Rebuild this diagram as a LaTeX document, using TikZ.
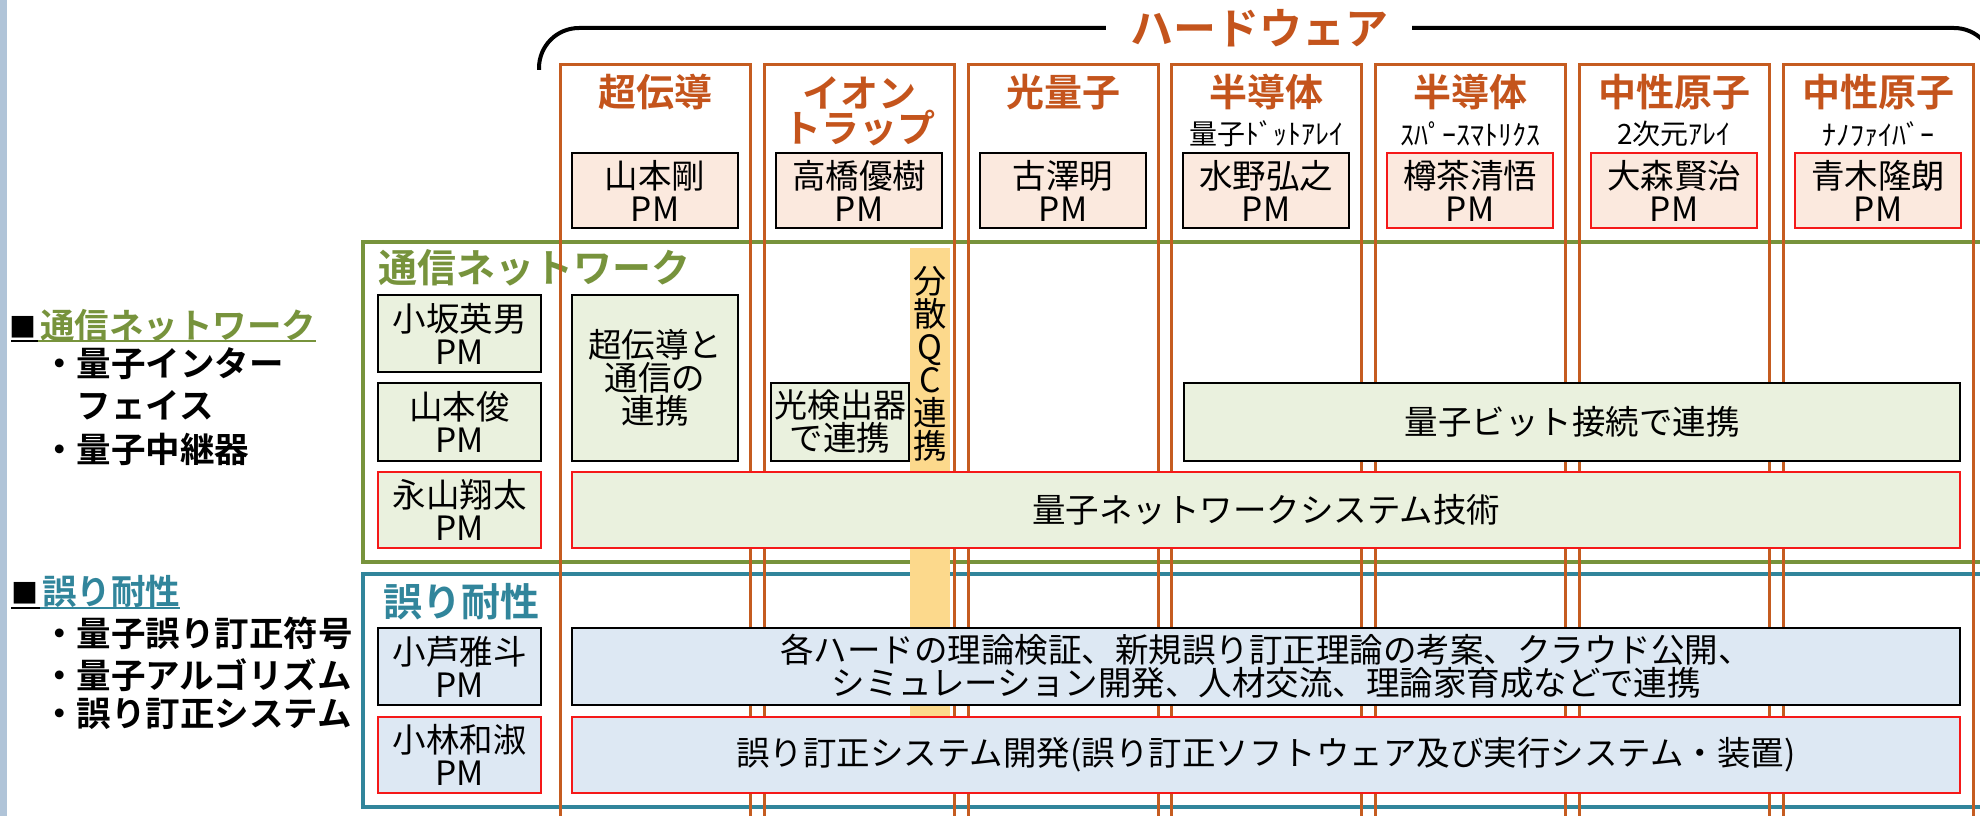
\documentclass[tikz,border=0pt]{standalone}
\usepackage{fontspec}
\setmainfont{Noto Sans CJK JP}[BoldFont={Noto Sans CJK JP Bold}]
\definecolor{colc}{RGB}{197,92,32}
\definecolor{hwtext}{RGB}{196,84,28}
\definecolor{greenc}{RGB}{119,147,60}
\definecolor{tealc}{RGB}{49,133,155}
\definecolor{redc}{RGB}{245,25,25}
\definecolor{peach}{RGB}{251,233,222}
\definecolor{lgreen}{RGB}{234,241,222}
\definecolor{lblue}{RGB}{221,232,243}
\definecolor{yellowc}{RGB}{252,217,140}
\definecolor{barc}{RGB}{176,196,216}
\newcommand\myhd{\fontsize{38}{34}\selectfont\bfseries}
\newcommand\mysub{\fontsize{28}{28}\selectfont}
\newcommand\mybox{\fontsize{33.5}{33}\selectfont}
\newcommand\myleft{\fontsize{34.5}{34}\selectfont\bfseries}
\newcommand\mysec{\fontsize{39}{39}\selectfont\bfseries}
\tikzset{
  colbox/.style={draw=colc, line width=3, minimum width=190, minimum height=770, inner sep=0},
  hd/.style={text=hwtext, font=\myhd, align=center, inner sep=0},
  subt/.style={text=black, font=\mysub, inner sep=0},
  pmb/.style={draw=black, line width=1.8, fill=peach, minimum width=166, minimum height=75, inner sep=0, align=center, font=\mybox},
  redb/.style={draw=redc},
  gbox/.style={draw=black, line width=1.8, fill=lgreen, inner sep=0, align=center, font=\mybox},
  bbox/.style={draw=black, line width=1.8, fill=lblue, inner sep=0, align=center, font=\mybox},
  secg/.style={draw=greenc, line width=4, inner sep=0},
  secb/.style={draw=tealc, line width=4, inner sep=0},
  lefttxt/.style={font=\myleft, anchor=west, inner sep=0},
  sqmark/.style={font=\fontsize{27}{27}\selectfont, inner sep=0},
  bracket/.style={draw=black, line width=4, rounded corners=40},
}
\begin{document}
\begin{tikzpicture}[x=1pt,y=-1pt]
\useasboundingbox (0,0) rectangle (1980,816);
\fill[white] (0,0) rectangle (1980,816);
% left edge bar
\fill[barc] (0,0) rectangle (7,816);

% bracket with title
\node[text=hwtext, font=\fontsize{43}{43}\selectfont\bfseries, inner sep=0] (hw) at (1259,28) {ハードウェア};
\coordinate (bl) at (539,70);
\coordinate (br) at (1994,95);
\draw[bracket] (bl) |- ([xshift=-24]hw.west);
\draw[bracket] ([xshift=24]hw.east) -| (br);

% sections
\node[secg, minimum width=1632, minimum height=320] (net) at (1179,402) {};
\node[secb, minimum width=1632, minimum height=233] (ft) at (1179,690.5) {};
\node[text=greenc, font=\mysec, anchor=west, inner sep=0] (nett) at (378,268) {通信ネットワーク};
\node[text=tealc, font=\mysec, anchor=west, inner sep=0] (ftt) at (383,602) {誤り耐性};

% hardware columns
\node[colbox] (c1) at (655,450) {};
\node[colbox] (c2) at (859,450) {};
\node[colbox] (c3) at (1063,450) {};
\node[colbox] (c4) at (1266,450) {};
\node[colbox] (c5) at (1470,450) {};
\node[colbox] (c6) at (1674,450) {};
\node[colbox] (c7) at (1878,450) {};

% headings
\node[hd] (h1) at (655,92) {超伝導};
\node[hd] (h2) at (859,111) {イオン\\トラップ};
\node[hd] (h3) at (1063,92) {光量子};
\node[hd] (h4) at (1266,92) {半導体};
\node[hd] (h5) at (1470,92) {半導体};
\node[hd] (h6) at (1674,92) {中性原子};
\node[hd] (h7) at (1878,92) {中性原子};
\node[subt] (s4) at (1266,134) {量子ﾄﾞｯﾄｱﾚｲ};
\node[subt] (s5) at (1470,134) {ｽﾊﾟｰｽﾏﾄﾘｸｽ};
\node[subt] (s6) at (1674,134) {2次元ｱﾚｲ};
\node[subt] (s7) at (1878,134) {ﾅﾉﾌｧｲﾊﾞｰ};

% hardware PMs
\node[pmb] (p1) at (655,190.5) {山本剛\\PM};
\node[pmb] (p2) at (859,190.5) {高橋優樹\\PM};
\node[pmb] (p3) at (1063,190.5) {古澤明\\PM};
\node[pmb] (p4) at (1266,190.5) {水野弘之\\PM};
\node[pmb, redb] (p5) at (1470,190.5) {樽茶清悟\\PM};
\node[pmb, redb] (p6) at (1674,190.5) {大森賢治\\PM};
\node[pmb, redb] (p7) at (1878,190.5) {青木隆朗\\PM};

% yellow strip
\node[fill=yellowc, minimum width=40, minimum height=469, inner sep=0] (qc) at (930,482.5) {};
\node[font=\mybox, align=center, inner sep=0] (qct) at (930,364) {\fontsize{33}{34}\selectfont 分\\散\\Q\\C\\連\\携};

% network section boxes
\node[gbox, minimum width=163, minimum height=77] (n1) at (459.5,333.5) {小坂英男\\PM};
\node[gbox, minimum width=163, minimum height=78] (n2) at (459.5,422) {山本俊\\PM};
\node[gbox, redb, minimum width=163, minimum height=76] (n3) at (459.5,510) {永山翔太\\PM};
\node[gbox, minimum width=166, minimum height=166] (sc) at (655,378) {\fontsize{33.5}{32}\selectfont 超伝導と\\通信の\\連携};
\node[gbox, minimum width=138, minimum height=78] (pd) at (840,422) {\fontsize{33}{33}\selectfont 光検出器\\で連携};
\node[gbox, minimum width=776, minimum height=78] (qb) at (1572,422) {量子ビット接続で連携};
\node[gbox, redb, minimum width=1388, minimum height=76] (qn) at (1266,510) {量子ネットワークシステム技術};

% fault tolerance boxes
\node[bbox, minimum width=163, minimum height=77] (f1) at (459.5,666.5) {小芦雅斗\\PM};
\node[bbox, redb, minimum width=163, minimum height=76] (f2) at (459.5,755) {小林和淑\\PM};
\node[bbox, minimum width=1388, minimum height=77] (th) at (1266,666.5) {各ハードの理論検証、新規誤り訂正理論の考案、クラウド公開、\\シミュレーション開発、人材交流、理論家育成などで連携};
\node[bbox, redb, minimum width=1388, minimum height=76] (es) at (1266,755) {誤り訂正システム開発(誤り訂正ソフトウェア及び実行システム・装置)};

% left legend
\node[sqmark] (sq1) at (23,327) {■};
\node[lefttxt, text=greenc] (l1) at (40,325) {通信ネットワーク};
\draw[line width=2.5] (11,341) -- (38,341);
\draw[line width=2.5, greenc] (38,341) -- (l1.south east |- 0,341);
\node[lefttxt] (l1a) at (42,364) {・量子インター};
\node[lefttxt] (l1b) at (76.5,405) {フェイス};
\node[lefttxt] (l1c) at (42,449) {・量子中継器};

\node[sqmark] (sq2) at (25,593) {■};
\node[lefttxt, text=tealc] (l2) at (42,591) {誤り耐性};
\draw[line width=2.5] (11,608) -- (40,608);
\draw[line width=2.5, tealc] (40,608) -- (l2.south east |- 0,608);
\node[lefttxt] (l2a) at (42,633) {・量子誤り訂正符号};
\node[lefttxt] (l2b) at (42,675) {・量子アルゴリズム};
\node[lefttxt] (l2c) at (42,714) {・誤り訂正システム};
\end{tikzpicture}
\end{document}
